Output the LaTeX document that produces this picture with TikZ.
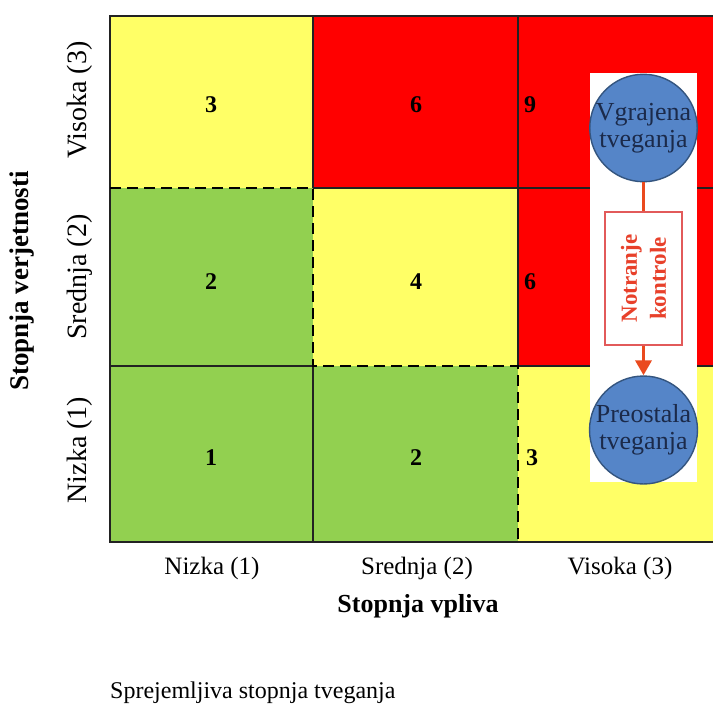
\documentclass[tikz,border=0pt]{standalone}
\usepackage{fontspec}
\setmainfont{Liberation Serif}
\usetikzlibrary{arrows.meta}
\definecolor{cellyellow}{HTML}{FFFF66}
\definecolor{cellred}{HTML}{FF0000}
\definecolor{cellgreen}{HTML}{92D050}
\definecolor{gridline}{HTML}{222222}
\definecolor{riskblue}{HTML}{5585C8}
\definecolor{riskedge}{HTML}{34557F}
\definecolor{risktext}{HTML}{1B2A4A}
\definecolor{flowred}{HTML}{EA4A1E}
\definecolor{ctrledge}{HTML}{E25A5A}
\definecolor{ctrltext}{HTML}{E8402A}
\begin{document}
\begin{tikzpicture}[x=1pt,y=-1pt,
  numlabel/.style={font=\fontsize{24}{26}\selectfont\bfseries, inner sep=0pt},
  axislabel/.style={font=\fontsize{25}{28}\selectfont, inner sep=0pt},
  sidelabel/.style={font=\fontsize{28}{30}\selectfont, inner sep=0pt, rotate=90},
  axistitle/.style={font=\fontsize{26}{29}\selectfont\bfseries, inner sep=0pt},
  riskcircle/.style={circle, fill=riskblue, draw=riskedge, line width=1.4pt,
    minimum size=96pt, inner sep=0pt, align=center, text=risktext,
    font=\fontsize{26}{27}\selectfont},
  ctrlbox/.style={rectangle, draw=ctrledge, fill=white, line width=1.3pt,
    minimum width=133pt, minimum height=77pt, inner sep=0pt, rotate=90,
    align=center, text=ctrltext, font=\fontsize{23}{29}\selectfont\bfseries},
  flow/.style={draw=flowred, line width=3.5pt},
  gridrule/.style={draw=gridline, line width=1.2pt},
  limitline/.style={draw=black, line width=2.8pt, dash pattern=on 11pt off 6pt}
]
\useasboundingbox (0,0) rectangle (713,709);

\begin{scope}
\clip (0,0) rectangle (713,709);
% cell colours
\fill[cellyellow] (110,16)  rectangle (313,188);
\fill[cellred]    (313,16)  rectangle (518,188);
\fill[cellred]    (518,16)  rectangle (723,188);
\fill[cellgreen]  (110,188) rectangle (313,366);
\fill[cellyellow] (313,188) rectangle (518,366);
\fill[cellred]    (518,188) rectangle (723,366);
\fill[cellgreen]  (110,366) rectangle (313,542);
\fill[cellgreen]  (313,366) rectangle (518,542);
\fill[cellyellow] (518,366) rectangle (723,542);
% solid grid rules
\draw[gridrule] (723,16) -- (110,16) -- (110,542) -- (723,542);
\draw[gridrule] (313,16) -- (313,188);
\draw[gridrule] (518,16) -- (518,366);
\draw[gridrule] (313,188) -- (723,188);
\draw[gridrule] (110,366) -- (313,366) -- (313,542);
\draw[gridrule] (518,366) -- (723,366);
% acceptable-risk boundary
\draw[limitline] (110,188) -- (313,188) -- (313,366) -- (518,366) -- (518,542);
\end{scope}

% scores
\node[numlabel] (s13) at (211,105) {3};
\node[numlabel] (s23) at (416,105) {6};
\node[numlabel, anchor=west] (s33) at (524,105) {9};
\node[numlabel] (s12) at (211,282) {2};
\node[numlabel] (s22) at (416,282) {4};
\node[numlabel, anchor=west] (s32) at (524,282) {6};
\node[numlabel] (s11) at (211,458) {1};
\node[numlabel] (s21) at (416,458) {2};
\node[numlabel, anchor=west] (s31) at (526,458) {3};

% inherent -> residual risk inset
\node[fill=white, minimum width=107pt, minimum height=409pt, inner sep=0pt] (inset) at (643.5,277.5) {};
\node[riskcircle] (inherent) at (643.5,128) {Vgrajena\\tveganja};
\node[riskcircle] (residual) at (643.5,430) {Preostala\\tveganja};
\node[ctrlbox] (controls) at (643.5,278.5) {Notranje\\kontrole};
\draw[flow] (inherent.south) -- (inherent.south |- controls.east);
\draw[flow, -{Triangle[length=15pt,width=16pt]}] (controls.west) -- (controls.west |- residual.north);

% axis labels
\node[sidelabel] (yhigh) at (80,100) {Visoka (3)};
\node[sidelabel] (ymid)  at (80,277) {Srednja (2)};
\node[sidelabel] (ylow)  at (80,450) {Nizka (1)};
\node[axistitle, font=\fontsize{27}{29}\selectfont\bfseries, rotate=90] (ytitle) at (22,281) {Stopnja verjetnosti};
\node[axislabel] (xlow)  at (212,568) {Nizka (1)};
\node[axislabel] (xmid)  at (417,568) {Srednja (2)};
\node[axislabel] (xhigh) at (620,568) {Visoka (3)};
\node[axistitle] (xtitle) at (418,606) {Stopnja vpliva};
\node[axislabel, font=\fontsize{24}{27}\selectfont, anchor=west] (legend) at (110,693) {Sprejemljiva stopnja tveganja};
\end{tikzpicture}
\end{document}
